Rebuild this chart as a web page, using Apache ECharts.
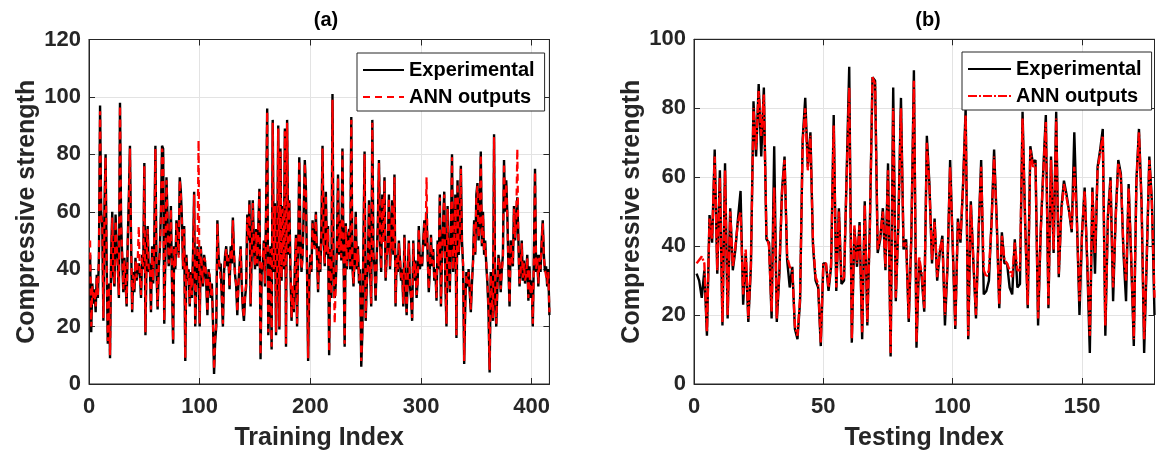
<!DOCTYPE html>
<html><head><meta charset="utf-8">
<script src="https://cdn.jsdelivr.net/npm/echarts@6/dist/echarts.min.js"></script>
<style>html,body{margin:0;padding:0;background:#fff}#c{width:1166px;height:456px}</style>
</head><body><div id="c"></div>
<script>
// ---------- data ----------
const expTrain=[45,18,35,28,33,25,38,30,45,97,
60,55,22,62,80,40,14,35,9,45,
60,38,34,59,48,42,30,98,57,44,
32,44,36,27,50,65,83,50,25,39,
32,44,36,40,42,38,30,45,40,77,
17,45,55,39,42,25,48,35,50,83,
39,26,40,47,60,83,82,21,45,72,
57,41,48,62,35,14,48,40,57,52,
45,72,67,57,40,55,8,45,36,40,
27,39,30,45,67,20,35,48,44,20,
48,40,34,45,42,34,24,40,37,30,
35,22,3.5,15,20,57,45,40,42,30,
20,39,45,48,41,45,33,48,42,58,
45,38,34,24,35,41,48,35,26,22,
30,34,59,50,64,27,45,64,48,40,
54,41,55,68,8.6,39,41,50,34,60,
96,17,30,48,12,92,39,63,17,45,
90,19,82,36,62,40,89,13,92,45,
64,40,22,34,25,40,52,20,45,79,
50,39,45,60,78,68,40,8,36,45,
39,57,50,48,60,45,32,48,39,55,
83,50,41,67,45,55,10,47,30,101,
41,30,35,48,73,45,57,43,82,45,
13,56,40,50,54,40,93,41,34,45,
60,40,48,35,40,6,18,50,81,22,
35,42,64,40,27,92,45,41,29,45,
56,78,50,39,66,50,72,36,45,48,
66,40,52,64,45,73,27,45,39,50,
43,36,40,27,52,35,24,38,50,34,
30,22,50,36,43,30,36,55,40,45,
41,50,57,48,60,45,32,40,52,41,
47,36,40,29,50,40,66,27,45,57,
67,35,20,62,45,32,52,80,39,50,
66,16,71,45,52,76,50,41,7,28,
39,34,40,32,25,35,43,57,45,66,
70,50,57,81,48,60,45,50,41,35,
25,4,39,30,22,87,30,20,34,45,
41,32,40,45,78,60,71,59,40,27,
50,45,41,62,50,57,65,50,34,40,
50,36,43,35,39,45,29,41,30,36,
20,45,75,39,45,34,45,39,50,57,
45,39,41,34,40,24];
const annTrain=[50,20,34,30,32,27,37,31,44,95,
58,56,23,60,79,41,15,34,10,44,
58,39,35,57,49,41,31,97,56,45,
33,43,37,28,49,63,82,51,26,38,
33,43,37,43,55,37,31,44,41,76,
18,44,54,40,41,26,47,36,49,82,
40,27,41,46,59,82,80,22,44,71,
56,42,47,61,36,15,47,41,56,53,
44,71,66,56,41,54,9,44,37,39,
28,38,31,44,66,21,36,47,85,21,
47,41,35,44,43,35,25,39,38,31,
34,23,5,16,21,56,44,41,41,31,
21,38,44,47,42,44,34,47,43,57,
46,37,35,25,34,42,47,36,27,23,
31,35,58,51,63,28,44,63,47,41,
53,42,54,67,10,40,40,49,35,59,
95,18,31,47,13,91,40,62,18,44,
89,20,81,37,61,41,88,14,91,46,
63,41,23,35,26,41,51,21,44,78,
49,40,44,59,77,67,41,9,37,44,
40,56,49,47,59,44,33,47,40,54,
82,49,42,66,46,54,11,46,31,99,
42,21,36,47,72,46,56,44,81,44,
14,55,41,49,53,41,92,42,35,44,
59,41,47,36,39,8,19,49,80,23,
36,41,63,41,28,91,44,42,30,44,
55,77,49,40,65,49,71,37,44,49,
65,41,51,63,46,72,28,44,40,49,
44,37,39,28,51,36,25,37,49,35,
31,23,49,37,42,31,35,54,41,44,
42,49,56,49,72,44,33,41,51,42,
46,37,39,30,49,41,65,28,44,56,
66,36,21,61,44,33,51,79,40,49,
65,17,70,46,51,75,49,42,8,29,
38,35,39,33,26,36,42,56,46,65,
69,51,56,80,49,59,46,49,42,36,
26,5,38,31,23,86,31,21,35,44,
42,33,39,44,77,61,70,58,41,28,
49,44,42,61,51,56,82,49,35,39,
49,37,42,36,38,44,30,40,31,35,
21,44,74,40,44,35,44,40,49,56,
44,40,40,35,39,25];
const expTest=[32,30,25,33,14,49,41,68,32,62,
17,64,19,51,33,39,48,56,23,38,
18,34,82,66,87,66,86,42,41,19,
69,18,32,56,66,36,28,34,16,13,
24,71,83,63,73,40,30,28,11,35,
35,27,34,78,27,51,29,30,61,92,
12,45,34,47,13,53,17,47,89,88,
38,42,51,33,64,8,86,24,47,83,
39,42,18,42,91,10.5,36,31,21,72,
58,35,48,30,38,43,17,34,65,40,
16,48,41,58,80,13,53,35,19,44,
65,26,27,30,47,68,48,22,44,35,
35,28,26,42,28,29,79,47,22,69,
64,65,17,44,62,78,22,66,38,79,
31,51,59,55,50,44,73,48,20,44,
57,35,9,57,32,63,68,74,14,49,
60,24,49,65,61,38,24,58,36,11,
59,74,53,9,36,66,53,20];
const annTest=[35,36,37,35,15,48,42,66,33,60,
18,62,20,50,34,40,47,50,26,39,
19,35,80,68,85,72,84,43,40,21,
57,19,33,55,65,37,34,33,17,14,
25,70,80,62,72,41,31,29,12,35,
35,28,35,75,28,50,30,31,60,86,
13,46,35,46,15,52,18,46,89,87,
39,43,50,34,62,9,80,25,46,80,
40,41,19,43,88,12,37,32,22,70,
57,36,47,31,39,42,20,35,63,41,
17,47,42,57,78,14,52,36,20,44,
63,33,31,33,46,66,47,23,43,36,
35,33,31,41,33,33,77,46,23,68,
63,64,19,44,61,76,23,65,39,77,
32,50,58,54,50,45,63,47,24,44,
56,36,14,56,38,62,67,72,17,48,
59,28,48,64,60,39,30,57,37,13,
58,73,52,13,37,65,52,25];
const trainXTicks=[0,100,200,300,400];
const testXTicks=[0,50,100,150];
const trainYTicks=[0,20,40,60,80,100,120];
const testYTicks=[0,20,40,60,80,100];
const panelTitles=['(a)','(b)'];
const xNames=['Training Index','Testing Index'];
const yName='Compressive strength';
const seriesNames=['Experimental','ANN outputs'];

// ---------- chart ----------
const FONT='"Liberation Sans", Arial, Helvetica, sans-serif';
const TXT='#262626';
const GRIDC='#e3e3e3';
const pairs=a=>a.map((v,i)=>[i+1,v]);
const grids=[
  {left:89,top:39.5,width:460.4,height:347.2},
  {left:694,top:39.3,width:460.5,height:347.4}
];
const xMax=[expTrain.length, expTest.length];
const xTicks=[trainXTicks,testXTicks];
const yTicks=[trainYTicks,testYTicks];
const xInt=[100,50];

function xAx(g,top){
  return {type:'value',gridIndex:g,position:top?'top':'bottom',min:0,max:xMax[g],interval:xInt[g],
    name:top?'':xNames[g],nameLocation:'middle',nameGap:42,
    nameTextStyle:{fontFamily:FONT,fontWeight:'bold',fontSize:25,color:TXT},
    axisLine:{show:true,onZero:false,lineStyle:{color:TXT,width:1}},
    axisTick:{show:true,inside:true,length:6,lineStyle:{color:TXT}},
    axisLabel:{show:!top,margin:12,fontFamily:FONT,fontWeight:'bold',fontSize:22,color:TXT,
      formatter:v=>xTicks[g].includes(v)?String(v):''},
    splitLine:{show:!top,lineStyle:{color:GRIDC,width:1}}};
}
function yAx(g,right){
  const t=yTicks[g];
  return {type:'value',gridIndex:g,position:right?'right':'left',min:0,max:t[t.length-1],interval:20,
    name:right?'':yName,nameLocation:'middle',nameGap:49,
    nameTextStyle:{fontFamily:FONT,fontWeight:'bold',fontSize:25,color:TXT},
    axisLine:{show:true,onZero:false,lineStyle:{color:TXT,width:1}},
    axisTick:{show:true,inside:true,length:6,lineStyle:{color:TXT}},
    axisLabel:{show:!right,margin:8,fontFamily:FONT,fontWeight:'bold',fontSize:22,color:TXT,
      formatter:v=>t.includes(v)?String(v):''},
    splitLine:{show:!right,lineStyle:{color:GRIDC,width:1}}};
}
const legendText={fontFamily:FONT,fontWeight:'bold',fontSize:20,color:'#000',lineHeight:20};
const option={
  animation:false,
  backgroundColor:'#fff',
  title:[
    {text:panelTitles[0],left:321,top:5,textAlign:'center',textStyle:{fontFamily:FONT,fontWeight:'bold',fontSize:20,color:'#000'}},
    {text:panelTitles[1],left:923,top:5,textAlign:'center',textStyle:{fontFamily:FONT,fontWeight:'bold',fontSize:20,color:'#000'}}
  ],
  grid:grids.map(g=>Object.assign({show:true,borderColor:TXT,borderWidth:1,backgroundColor:'#fff',containLabel:false},g)),
  xAxis:[xAx(0,false),xAx(1,false),xAx(0,true),xAx(1,true)],
  yAxis:[yAx(0,false),yAx(1,false),yAx(0,true),yAx(1,true)],
  legend:[
    {data:['E0','A0'],formatter:n=>n==='E0'?seriesNames[0]:seriesNames[1],orient:'vertical',left:357,top:53,
      itemWidth:41,itemHeight:14,itemGap:7,padding:[7,10,4,5],borderColor:TXT,borderWidth:1,backgroundColor:'#fff',
      itemStyle:{opacity:0},textStyle:legendText,selectedMode:false},
    {data:['E1','A1'],formatter:n=>n==='E1'?seriesNames[0]:seriesNames[1],orient:'vertical',left:962,top:52,
      itemWidth:43,itemHeight:14,itemGap:7,padding:[7,10,4,5],borderColor:TXT,borderWidth:1,backgroundColor:'#fff',
      itemStyle:{opacity:0},textStyle:legendText,selectedMode:false}
  ],
  series:[
    {name:'E0',type:'line',xAxisIndex:0,yAxisIndex:0,data:pairs(expTrain),symbol:'none',
      lineStyle:{color:'#000',width:2.4},itemStyle:{color:'#000'},z:2},
    {name:'A0',type:'line',xAxisIndex:0,yAxisIndex:0,data:pairs(annTrain),symbol:'none',
      lineStyle:{color:'#ff0000',width:2.2,type:[7,5]},itemStyle:{color:'#ff0000'},z:3},
    {name:'E1',type:'line',xAxisIndex:1,yAxisIndex:1,data:pairs(expTest),symbol:'none',
      lineStyle:{color:'#000',width:2.4},itemStyle:{color:'#000'},z:2},
    {name:'A1',type:'line',xAxisIndex:1,yAxisIndex:1,data:pairs(annTest),symbol:'none',
      lineStyle:{color:'#ff0000',width:2.4,type:[9,2,2,2]},itemStyle:{color:'#ff0000'},z:3}
  ]
};
const chart=echarts.init(document.getElementById('c'),null,{renderer:'canvas'});
chart.setOption(option);
</script></body></html>
